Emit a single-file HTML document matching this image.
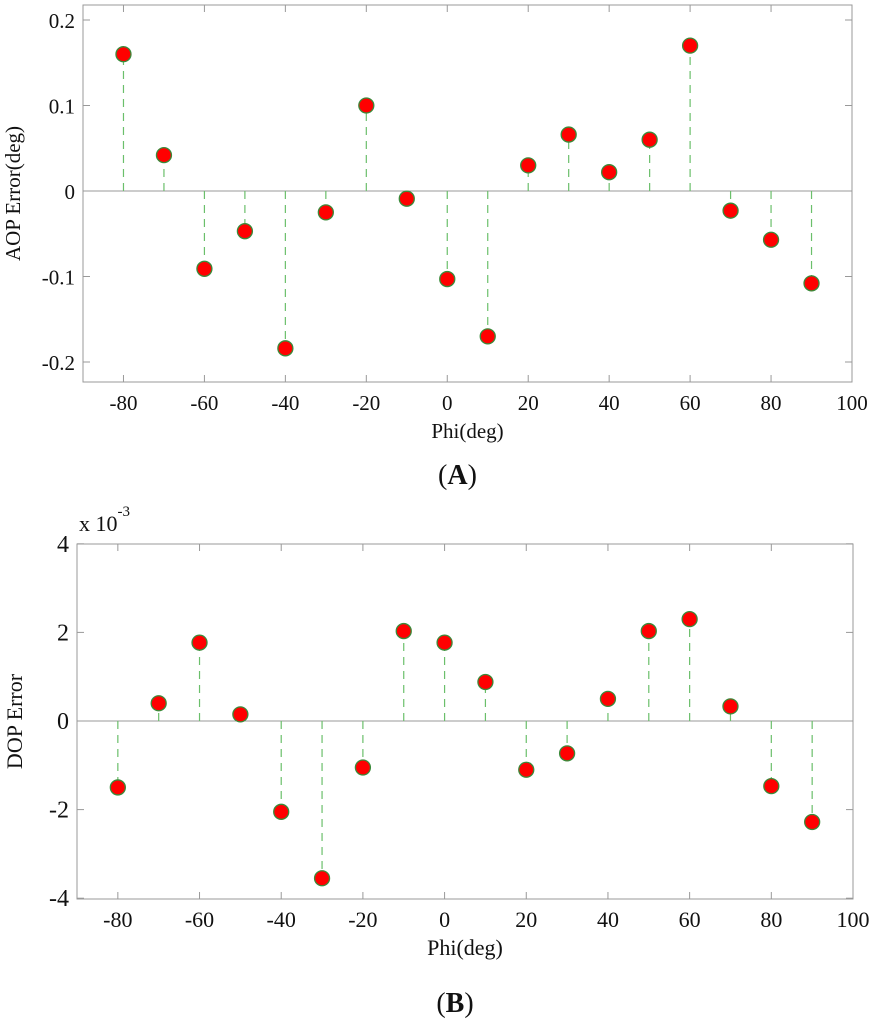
<!DOCTYPE html>
<html><head><meta charset="utf-8"><style>
html,body{margin:0;padding:0;background:#fff;}
svg{display:block;font-family:"Liberation Serif",serif;}
</style></head><body>
<svg id="svg" width="880" height="1024" viewBox="0 0 880 1024"></svg>
<script>
const phi = [-80,-70,-60,-50,-40,-30,-20,-10,0,10,20,30,40,50,60,70,80,90];
const aopErr = [0.16,0.042,-0.091,-0.047,-0.184,-0.025,0.1,-0.009,-0.103,-0.17,0.03,0.066,0.022,0.06,0.17,-0.023,-0.057,-0.108];
const dopErr = [-1.5,0.4,1.77,0.15,-2.05,-3.55,-1.05,2.03,1.77,0.88,-1.1,-0.73,0.5,2.03,2.3,0.33,-1.47,-2.28];
const xTicks = [-80,-60,-40,-20,0,20,40,60,80,100];
const aopTicks = [0.2,0.1,0,-0.1,-0.2];
const aopTickLabels = ["0.2","0.1","0","-0.1","-0.2"];
const dopTicks = [4,2,0,-2,-4];
const dopTickLabels = ["4","2","0","-2","-4"];

const svg = document.getElementById('svg');
const NS = 'http://www.w3.org/2000/svg';
function mk(tag, attrs, parent){const e=document.createElementNS(NS,tag);for(const k in attrs)e.setAttribute(k,attrs[k]);(parent||svg).appendChild(e);return e;}

function panel(cfg){
  const g = mk('g',{});
  
  
  const {L,R,T,B,xmin,xmax,y0px,yScale,fs} = cfg;
  const X = v => L + (v - xmin) / (xmax - xmin) * (R - L);
  const Y = v => y0px - v * yScale;
  const frame = mk('rect',{x:L,y:T,width:R-L,height:B-T,fill:'none',stroke:'#999','stroke-width':1},g);
  
  
  const zl = mk('line',{x1:L,x2:R,y1:Y(0),y2:Y(0),stroke:'#999','stroke-width':1},g);
  
  
  xTicks.forEach(t=>{
    const x=X(t);
    mk('line',{x1:x,x2:x,y1:B,y2:B-7,stroke:'#999'},g);
    mk('line',{x1:x,x2:x,y1:T,y2:T+7,stroke:'#999'},g);
    const tx = mk('text',{x:x,y:B+28,'text-anchor':'middle','font-size':fs,fill:'#111'},g);
    tx.textContent = t;
    
    
  });
  cfg.ticks.forEach((t,i)=>{
    const y=Y(t);
    mk('line',{x1:L,x2:L+7,y1:y,y2:y,stroke:'#999'},g);
    mk('line',{x1:R,x2:R-7,y1:y,y2:y,stroke:'#999'},g);
    const tx = mk('text',{x:L-8,y:y+8,'text-anchor':'end','font-size':cfg.yfs,fill:'#111'},g);
    tx.textContent = cfg.labels[i];
    
    
  });
  phi.forEach((p,i)=>{
    const v = cfg.vals[i];
    const st = mk('line',{x1:X(p),x2:X(p),y1:Y(0),y2:Y(v),stroke:'#6bbf6b','stroke-width':1.2,'stroke-dasharray':'8,6'},g);
    
    
  });
  phi.forEach((p,i)=>{
    const v = cfg.vals[i];
    const c = mk('circle',{cx:X(p),cy:Y(v),r:7.5,fill:'#ff0000',stroke:'#3a8a3a','stroke-width':1.3},g);
    
    
  });
  const xl = mk('text',{x:(L+R)/2,y:B+56,'text-anchor':'middle','font-size':fs,fill:'#111'},g);
  xl.textContent = 'Phi(deg)';
  
  
  const yl = mk('text',{x:0,y:0,'text-anchor':'middle','font-size':fs,fill:'#111',transform:`translate(${cfg.ytx},${(T+B)/2}) rotate(-90)`},g);
  yl.textContent = cfg.ytitle;
  
  
  const pl = mk('text',{x:(L+R)/2-10,y:cfg.py,'text-anchor':'middle','font-size':28,fill:'#111'},g);
  pl.innerHTML = '(<tspan font-weight="bold">'+cfg.letter+'</tspan>)';
  
  
}

panel({name:'aop-chart',L:83,R:852,T:5,B:382,xmin:-90,xmax:100,y0px:191,yScale:855,fs:21,yfs:21,
  ticks:aopTicks,labels:aopTickLabels,vals:aopErr,ytitle:'AOP Error(deg)',ytx:20,letter:'A',py:484});
panel({name:'dop-chart',L:77,R:853,T:544,B:899,xmin:-90,xmax:100,y0px:721,yScale:44.3,fs:22,yfs:24,
  ticks:dopTicks,labels:dopTickLabels,vals:dopErr,ytitle:'DOP Error',ytx:22,letter:'B',py:1012});

const ex = mk('text',{x:79,y:531,'font-size':22,fill:'#111'});
ex.innerHTML = 'x 10<tspan dy="-15" font-size="15">-3</tspan>';


</script>
</body></html>
